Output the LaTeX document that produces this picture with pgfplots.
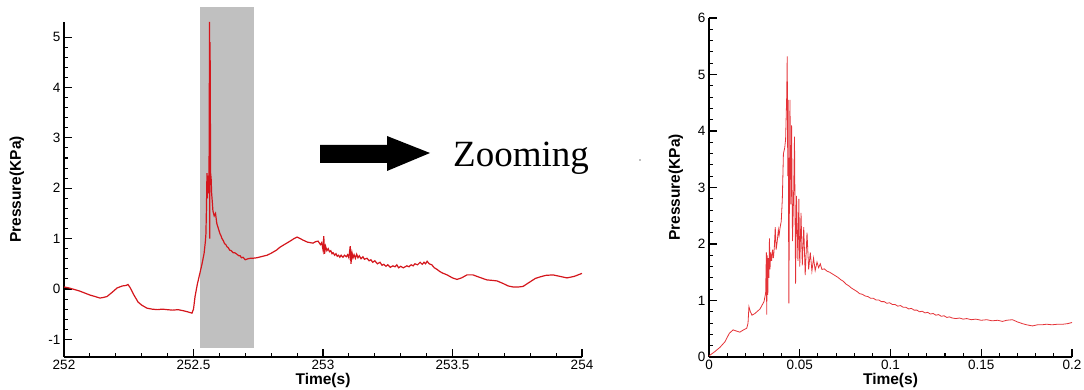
\documentclass[border=0pt]{standalone}
\usepackage{pgfplots}
\pgfplotsset{compat=1.18}
\usepackage{fontspec}
\setmainfont{Liberation Sans}
\newfontfamily\timesfont{Liberation Serif}
\definecolor{shadegray}{RGB}{192,192,192}
\definecolor{lineA}{RGB}{212,22,28}
\definecolor{lineB}{RGB}{228,50,55}
\pgfplotsset{
  mystyle/.style={
    scale only axis,
    axis lines=left,
    axis line style={-, line width=1.6pt, black},
    tick align=inside,
    major tick length=8pt,
    minor tick length=4pt,
    every tick/.style={black, line width=1.1pt},
    minor tick num=4,
    tick label style={font=\fontsize{13.5}{15}\selectfont},
    label style={font=\fontsize{15.5}{18}\selectfont\bfseries},
    /pgf/number format/assume math mode=true,
    scaled ticks=false,
    xticklabel style={/pgf/number format/fixed, /pgf/number format/precision=2},
    yticklabel style={/pgf/number format/fixed},
    clip=false,
  }
}
\begin{document}
\begin{tikzpicture}
\path[use as bounding box] (0,0) rectangle (1084pt,390pt);
% left axis
\begin{axis}[mystyle,
  at={(64pt,33pt)}, anchor=south west,
  width=518pt, height=335pt,
  xmin=252, xmax=254, ymin=-1.35, ymax=5.3,
  xtick={252,252.5,253,253.5,254},
  ytick={-1,0,1,2,3,4,5},
  xlabel={Time(s)}, ylabel={Pressure(KPa)},
  xlabel style={at={(axis description cs:0.5,-0.069)}, anchor=center},
  ylabel style={at={(axis description cs:-0.091,0.5)}, anchor=center, rotate=0},
]
\addplot[fill=shadegray, draw=none] coordinates {(252.525,-1.17) (252.734,-1.17) (252.734,5.6) (252.525,5.6)} -- cycle;
\addplot[lineA, line width=1.2pt] coordinates {
(252.000,0.04) (252.020,0.02) (252.040,-0.01) (252.060,-0.04) (252.080,-0.08) (252.100,-0.12) (252.120,-0.15) (252.139,-0.18) (252.150,-0.17) (252.166,-0.15) (252.185,-0.07) (252.205,0.02) (252.225,0.06) (252.240,0.07) (252.247,0.09) (252.255,0.03) (252.270,-0.12) (252.286,-0.26) (252.300,-0.32) (252.320,-0.38) (252.340,-0.40) (252.360,-0.41) (252.380,-0.40) (252.398,-0.41) (252.420,-0.42) (252.440,-0.41) (252.459,-0.43) (252.475,-0.45) (252.488,-0.47) (252.494,-0.48) (252.500,-0.40) (252.506,-0.15) (252.515,0.10) (252.525,0.32) (252.533,0.50) (252.541,0.71) (252.546,0.95) (252.548,1.10) (252.550,1.60) (252.552,2.30) (252.554,1.80) (252.556,2.25) (252.558,1.90) (252.560,2.30) (252.562,5.30) (252.563,1.00) (252.564,4.90) (252.566,2.30) (252.568,2.20) (252.570,1.90) (252.573,1.70) (252.575,1.55) (252.580,1.45) (252.585,1.50) (252.590,1.30) (252.596,1.20) (252.602,1.10) (252.606,1.06) (252.610,1.00) (252.615,0.96) (252.620,0.90) (252.625,0.88) (252.629,0.84) (252.634,0.82) (252.640,0.77) (252.646,0.76) (252.653,0.72) (252.659,0.72) (252.665,0.70) (252.670,0.68) (252.675,0.66) (252.680,0.66) (252.685,0.62) (252.691,0.63) (252.700,0.58) (252.710,0.60) (252.720,0.61) (252.730,0.61)
(252.745,0.62) (252.760,0.64) (252.784,0.67) (252.800,0.71) (252.820,0.77) (252.834,0.83) (252.850,0.88) (252.873,0.95) (252.888,1.00) (252.900,1.03) (252.912,1.00) (252.923,0.97) (252.940,0.93) (252.961,0.91) (252.972,0.94) (252.981,0.95) (252.990,0.88) (252.995,0.92) (253.000,0.78) (253.003,1.05) (253.006,0.70) (253.010,0.85) (253.015,0.76) (253.020,0.80) (253.025,0.74) (253.030,0.76) (253.035,0.70) (253.039,0.72) (253.045,0.67) (253.050,0.70) (253.055,0.65) (253.060,0.67) (253.065,0.63) (253.070,0.67) (253.077,0.63) (253.083,0.67) (253.090,0.64) (253.095,0.68) (253.100,0.62) (253.105,0.85) (253.108,0.50) (253.112,0.72) (253.116,0.62) (253.120,0.68) (253.125,0.61) (253.130,0.69) (253.135,0.62) (253.140,0.66) (253.147,0.60) (253.154,0.64) (253.160,0.59) (253.170,0.61) (253.178,0.56) (253.185,0.58) (253.192,0.53) (253.200,0.56) (253.210,0.50) (253.220,0.53) (253.228,0.47) (253.235,0.49) (253.243,0.45) (253.250,0.48) (253.260,0.43) (253.270,0.46) (253.278,0.44) (253.285,0.48) (253.292,0.42) (253.300,0.45) (253.310,0.42) (253.324,0.46) (253.332,0.44) (253.340,0.48) (253.348,0.46) (253.355,0.50) (253.365,0.48) (253.375,0.53) (253.383,0.49) (253.390,0.53) (253.396,0.50) (253.402,0.55) (253.410,0.50) (253.420,0.48) (253.430,0.42) (253.440,0.39) (253.450,0.35) (253.460,0.32) (253.479,0.28) (253.500,0.22) (253.517,0.19) (253.535,0.22) (253.556,0.28) (253.579,0.28) (253.605,0.23) (253.633,0.18) (253.655,0.17) (253.672,0.16) (253.695,0.11) (253.715,0.06) (253.734,0.04) (253.755,0.04) (253.772,0.05) (253.799,0.14) (253.820,0.21) (253.838,0.24) (253.860,0.27) (253.888,0.28) (253.915,0.25) (253.942,0.22) (253.970,0.25) (254.000,0.31)
};
\end{axis}
% arrow and text
\fill[black] (320pt,245pt) -- (387pt,245pt) -- (387pt,254pt) -- (430pt,237pt) -- (387pt,219pt) -- (387pt,227pt) -- (320pt,227pt) -- cycle;
\node[anchor=base west, inner sep=0pt, font=\timesfont\fontsize{37}{40}\selectfont] at (453pt,223pt) {Zooming};
\fill[gray] (640pt,230pt) circle (0.8pt);
% right axis
\begin{axis}[mystyle,
  at={(709pt,33pt)}, anchor=south west,
  width=363pt, height=339pt,
  xmin=0, xmax=0.2, ymin=0, ymax=6,
  xtick={0,0.05,0.1,0.15,0.2},
  ytick={0,1,2,3,4,5,6},
  xlabel={Time(s)}, ylabel={Pressure(KPa)},
  xlabel style={at={(axis description cs:0.5,-0.068)}, anchor=center},
  ylabel style={at={(axis description cs:-0.091,0.5)}, anchor=center},
]
\addplot[lineB, line width=0.8pt] coordinates {
(0,0.02) (0.003,0.09) (0.006,0.17) (0.0088,0.27) (0.0112,0.42) (0.0133,0.48) (0.015,0.46) (0.017,0.44) (0.019,0.48) (0.0208,0.51) (0.0215,0.60) (0.022,0.89) (0.0228,0.80) (0.0237,0.74) (0.0253,0.77) (0.0281,0.85) (0.0303,0.98) (0.0312,1.13) (0.0316,1.85) (0.0318,0.75) (0.0321,1.80) (0.0324,1.10) (0.0327,1.75) (0.0330,1.40) (0.0333,2.10) (0.0336,1.55) (0.0340,1.85) (0.0345,1.70) (0.0350,1.90) (0.0355,1.75) (0.0360,1.95) (0.0365,2.30) (0.0370,1.90) (0.0376,2.05) (0.0382,2.25) (0.0386,2.15) (0.0392,2.30) (0.0398,2.40) (0.0404,2.80) (0.0410,3.60) (0.0417,3.70) (0.0422,3.85) (0.0428,4.60) (0.0431,5.32) (0.0434,3.2) (0.0436,4.55) (0.0440,0.95) (0.0446,4.55) (0.0451,2.70) (0.0455,4.10) (0.0460,2.05) (0.0466,2.85) (0.0471,3.90) (0.0477,1.30) (0.0482,2.85) (0.0490,1.70) (0.0495,2.80) (0.0500,1.60) (0.0507,2.55) (0.0514,1.62) (0.0522,2.30) (0.0530,1.45) (0.0540,2.20) (0.0549,1.55) (0.0558,1.85) (0.0567,1.52) (0.0576,1.75) (0.0585,1.53) (0.0595,1.68) (0.0604,1.58) (0.0613,1.65) (0.0622,1.55)
(0.0635,1.56) (0.065,1.52) (0.0665,1.50) (0.068,1.47) (0.0695,1.44) (0.071,1.41) (0.0725,1.37) (0.074,1.34) (0.0755,1.29) (0.077,1.26) (0.0785,1.22) (0.080,1.19) (0.0815,1.16) (0.083,1.12) (0.0845,1.11) (0.086,1.08) (0.0875,1.07) (0.089,1.04) (0.0905,1.04) (0.092,1.01) (0.0935,1.01) (0.095,0.98) (0.0965,0.98) (0.098,0.95) (0.0995,0.96) (0.101,0.93) (0.1025,0.93) (0.104,0.90) (0.1055,0.91) (0.107,0.88) (0.1085,0.88) (0.110,0.85) (0.1115,0.86) (0.113,0.83) (0.1145,0.83) (0.116,0.80) (0.1175,0.81) (0.119,0.78) (0.1205,0.79) (0.122,0.76) (0.1235,0.77) (0.125,0.74) (0.1265,0.75) (0.128,0.72) (0.1295,0.73) (0.131,0.70) (0.1325,0.71) (0.134,0.69) (0.136,0.68) (0.138,0.69) (0.140,0.67) (0.142,0.68) (0.1445,0.66) (0.147,0.67) (0.150,0.65) (0.153,0.66) (0.156,0.64) (0.159,0.65) (0.1617,0.63) (0.164,0.65) (0.1672,0.66) (0.170,0.62) (0.1727,0.59) (0.175,0.57) (0.1782,0.55) (0.181,0.57) (0.1835,0.57) (0.186,0.58) (0.189,0.57) (0.192,0.58) (0.195,0.58) (0.1975,0.59) (0.200,0.61)
};
\end{axis}
\end{tikzpicture}
\end{document}
